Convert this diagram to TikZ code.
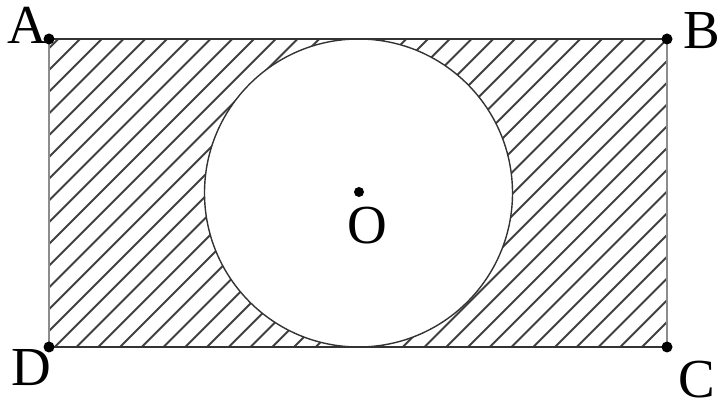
\documentclass[tikz,border=0pt]{standalone}
\usepackage{fontspec}
\setmainfont{Liberation Serif}
\begin{document}
\begin{tikzpicture}[x=1pt,y=1pt,
  lbl/.style={font=\fontsize{55}{60}\selectfont, inner sep=0pt},
  dotpt/.style={circle, fill=black, inner sep=0pt, minimum size=11pt},
  hatch/.style={draw=black!75, line width=1.8pt},
  edgeh/.style={draw=black!80, line width=1.8pt},
  edgev/.style={draw=black!45, line width=1.8pt}]
\useasboundingbox (0,0) rectangle (720,409);
\coordinate (A) at (49,370);
\coordinate (B) at (667,370);
\coordinate (C) at (667,62);
\coordinate (D) at (49,62);
\coordinate (O) at (358.5,216);
% hatching
\begin{scope}
  \clip (A) rectangle (C);
  \foreach \k in {-3,...,43} {
    \pgfmathsetmacro{\c}{-290+\k*21.75}
    \draw[hatch] (\c+40,40) -- (\c+400,400);
  }
\end{scope}
\fill[white] (O) circle (154);
\draw[draw=black!80, line width=1.4pt] (O) circle (154);
% rectangle edges
\draw[edgeh] (A) -- (B);
\draw[edgeh] (D) -- (C);
\draw[edgev] (A) -- (D);
\draw[edgev] (B) -- (C);
% points
\node[dotpt] (dA) at (A) {};
\node[dotpt] (dB) at (B) {};
\node[dotpt] (dC) at (C) {};
\node[dotpt] (dD) at (D) {};
\node[dotpt, minimum size=10pt] (dO) at (359,217) {};
% labels
\node[lbl] (lA) at (27,384) {A};
\node[lbl] (lB) at (702,378) {B};
\node[lbl] (lC) at (697,29) {C};
\node[lbl] (lD) at (31,41) {D};
\node[lbl] (lO) at (367,183) {O};
\end{tikzpicture}
\end{document}
